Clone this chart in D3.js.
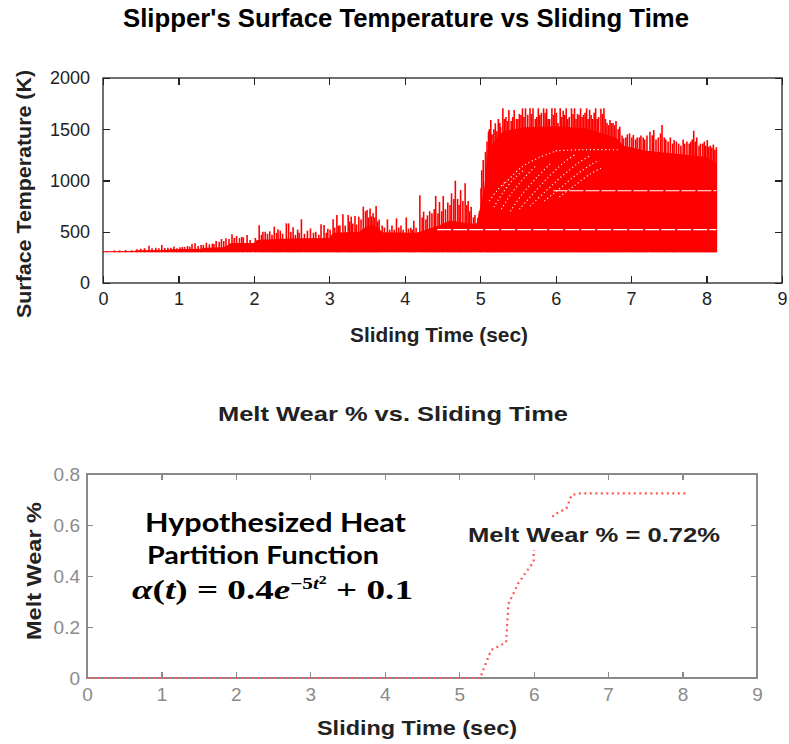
<!DOCTYPE html>
<html>
<head>
<meta charset="utf-8">
<script src="https://cdnjs.cloudflare.com/ajax/libs/d3/7.8.5/d3.min.js"></script>
<style>
  body { margin: 0; background: #fff; }
  svg { display: block; font-family: "Liberation Sans", Arial, sans-serif; }
  .tick line { shape-rendering: crispEdges; }
</style>
</head>
<body>
<svg id="chart" width="789" height="744"></svg>
<script>
// ---- top chart: surface temperature (K) ----
var xTicksTop = [0, 1, 2, 3, 4, 5, 6, 7, 8, 9];
var yTicksTop = [0, 500, 1000, 1500, 2000];
var baseTemp = 300;

// solid body of the trace (lower envelope between spikes)
var bodyTime = [0, 0.4, 0.45, 0.85, 0.9, 1.3, 1.35, 1.6, 1.7, 2.0, 2.04, 2.3, 2.6, 3.0, 3.05, 3.4, 3.45, 3.55, 3.65, 3.7, 4.15, 4.2, 4.45, 4.6, 4.85, 4.95, 5.05, 5.1, 5.3, 5.6, 6.0, 6.4, 6.8, 6.9, 7.2, 7.6, 8.0, 8.13];
var bodyTemp = [310, 312, 320, 322, 330, 335, 345, 350, 390, 390, 420, 430, 436, 440, 490, 500, 530, 570, 540, 495, 490, 500, 560, 610, 580, 580, 900, 1300, 1480, 1520, 1530, 1510, 1420, 1340, 1290, 1260, 1230, 1170];

// tall spike peaks
var spikeTime = [0.15, 0.3, 0.45, 0.55, 0.61, 0.7, 0.78, 0.86, 0.94, 1.05, 1.12, 1.18, 1.22, 1.3, 1.37, 1.45, 1.5, 1.57, 1.63, 1.71, 1.77, 1.81, 1.86, 1.91,
    2.07, 2.12, 2.15, 2.21, 2.27, 2.32, 2.35, 2.43, 2.46, 2.52, 2.58, 2.63, 2.71, 2.75, 2.82, 2.89, 2.93, 2.98,
    3.05, 3.10, 3.14, 3.18, 3.25, 3.29, 3.34, 3.39, 3.45, 3.48, 3.50, 3.54, 3.58, 3.62, 3.66, 3.77, 3.83, 3.89, 3.95,
    4.02, 4.08, 4.12, 4.20, 4.25, 4.30, 4.36, 4.41, 4.46, 4.51, 4.57, 4.62, 4.67, 4.70, 4.74, 4.80, 4.84, 4.88, 4.93, 4.97,
    5.01, 5.04, 5.07, 5.11, 5.14, 5.17, 5.20, 5.24, 5.27, 5.30, 5.34, 5.38, 5.41, 5.45, 5.48, 5.52, 5.56, 5.60, 5.63, 5.66, 5.70, 5.73, 5.77, 5.81, 5.84, 5.88, 5.92, 5.95, 5.99,
    6.03, 6.06, 6.10, 6.14, 6.18, 6.21, 6.25, 6.29, 6.33, 6.37, 6.41, 6.45, 6.49, 6.53, 6.57, 6.60, 6.64, 6.68, 6.72, 6.76, 6.80, 6.85, 6.90, 6.95,
    7.03, 7.08, 7.13, 7.18, 7.25, 7.30, 7.36, 7.41, 7.46, 7.52, 7.57, 7.63, 7.69, 7.74, 7.79, 7.83, 7.87, 7.92, 7.97,
    8.01, 8.05, 8.09, 8.13];
var spikeTemp = [318, 322, 330, 340, 364, 345, 371, 345, 355, 350, 360, 380, 387, 370, 393, 385, 409, 429, 436, 475, 459, 440, 445, 468,
    563, 500, 500, 504, 550, 524, 510, 582, 582, 543, 520, 621, 510, 532, 500, 572, 566, 530,
    621, 663, 560, 670, 663, 647, 653, 647, 745, 700, 712, 728, 680, 751, 620, 621, 560, 631, 560,
    640, 540, 608, 856, 696, 660, 680, 850, 790, 850, 786, 875, 998, 820, 907, 972, 800, 745, 663, 634,
    924, 1200, 1280, 1476, 1590, 1450, 1558, 1600, 1520, 1704, 1620, 1688, 1580, 1688, 1600, 1650, 1704, 1704, 1640, 1704, 1704, 1600, 1704, 1660, 1704, 1700, 1600, 1704, 1704,
    1560, 1704, 1680, 1704, 1620, 1704, 1704, 1650, 1704, 1640, 1704, 1690, 1600, 1704, 1620, 1700, 1704, 1560, 1590, 1560, 1580, 1525, 1412, 1450,
    1444, 1420, 1440, 1400, 1476, 1493, 1420, 1541, 1400, 1420, 1395, 1360, 1400, 1380, 1379, 1486, 1420, 1360, 1380,
    1395, 1340, 1350, 1324];

// smaller spikes packed between the tall ones
var minorTime = [0.05, 0.22, 0.38, 0.5, 0.65, 0.74, 0.82, 0.9, 0.98, 1.02, 1.08, 1.15, 1.26, 1.33, 1.41, 1.47, 1.54, 1.6, 1.67, 1.74, 1.84, 1.95,
    2.02, 2.1, 2.18, 2.24, 2.3, 2.38, 2.49, 2.55, 2.6, 2.67, 2.79, 2.86, 2.96, 3.01, 3.07, 3.12, 3.21, 3.27, 3.31, 3.36, 3.42, 3.52, 3.56, 3.6, 3.64,
    3.7, 3.73, 3.8, 3.86, 3.92, 3.98, 4.05, 4.1, 4.15, 4.23, 4.28, 4.33, 4.39, 4.44, 4.49, 4.54, 4.6, 4.65, 4.72, 4.77, 4.82, 4.86, 4.91, 4.99,
    5.02, 5.09, 5.12, 5.15, 5.18, 5.22, 5.26, 5.32, 5.36, 5.43, 5.5, 5.54, 5.58, 5.68, 5.75, 5.79, 5.86, 5.9, 5.97, 6.01, 6.08, 6.12, 6.16, 6.23,
    6.27, 6.31, 6.35, 6.39, 6.43, 6.47, 6.51, 6.55, 6.62, 6.66, 6.7, 6.74, 6.78, 6.83, 6.88, 6.93, 6.98, 7.01, 7.06, 7.11, 7.16, 7.21, 7.28,
    7.33, 7.39, 7.44, 7.49, 7.55, 7.6, 7.66, 7.71, 7.77, 7.81, 7.85, 7.9, 7.95, 7.99, 8.03, 8.07, 8.11];
var minorTemp = [312, 318, 320, 335, 340, 338, 342, 345, 340, 350, 352, 355, 362, 372, 378, 380, 400, 410, 430, 440, 450, 420,
    440, 470, 480, 470, 490, 480, 500, 470, 490, 480, 490, 470, 490, 520, 540, 560, 560, 600, 580, 570, 620, 640, 650, 640, 600,
    560, 540, 520, 520, 540, 520, 530, 520, 540, 640, 620, 700, 720, 680, 700, 720, 760, 820, 760, 800, 760, 700, 640, 700,
    1100, 1380, 1500, 1450, 1500, 1480, 1560, 1600, 1580, 1620, 1600, 1640, 1620, 1650, 1620, 1640, 1660, 1600, 1640, 1660, 1620, 1640, 1600, 1650,
    1600, 1640, 1620, 1660, 1600, 1640, 1660, 1600, 1650, 1600, 1540, 1560, 1540, 1500, 1440, 1420, 1460, 1420, 1400, 1420, 1420, 1440, 1440,
    1400, 1460, 1420, 1380, 1360, 1380, 1340, 1360, 1360, 1400, 1380, 1340, 1360, 1340, 1330, 1320, 1300];

// white banding seen inside the trace
var bandLow = [[4.43, 520], [8.13, 520]];
var bandHigh = [[5.97, 900], [8.13, 900]];
var moire = [
    [[5.12, 800], [5.22, 900], [5.35, 1000]],
    [[5.18, 740], [5.30, 880], [5.45, 1020], [5.58, 1100]],
    [[5.28, 720], [5.42, 880], [5.60, 1040], [5.75, 1150]],
    [[5.40, 700], [5.55, 860], [5.75, 1030], [5.95, 1180]],
    [[5.52, 720], [5.70, 870], [5.90, 1030], [6.10, 1170], [6.25, 1250]],
    [[5.66, 750], [5.86, 890], [6.08, 1040], [6.30, 1170], [6.45, 1240]],
    [[5.85, 800], [6.05, 920], [6.28, 1060], [6.48, 1160], [6.58, 1200]],
    [[6.05, 840], [6.25, 950], [6.45, 1060], [6.60, 1120]],
    [[5.30, 950], [5.55, 1130], [5.80, 1230], [6.02, 1290]],
    [[6.00, 1290], [6.35, 1300], [6.85, 1300]]
];

// ---- bottom chart: melt wear % ----
var xTicksBot = [0, 1, 2, 3, 4, 5, 6, 7, 8, 9];
var yTicksBot = [0, 0.2, 0.4, 0.6, 0.8];
var meltTime = [0, 5.28, 5.43, 5.5, 5.63, 5.66, 5.79, 5.91, 6.0, 6.0, 6.27, 6.44, 6.51, 6.62, 8.08];
var meltWear = [0, 0, 0.11, 0.12, 0.14, 0.29, 0.37, 0.42, 0.456, 0.50, 0.64, 0.665, 0.718, 0.724, 0.724];

var svg = d3.select("#chart");
var font = '"Liberation Sans", Arial, sans-serif';

// ---------- top chart ----------
var top1 = { left: 103, right: 782, top: 78, bottom: 283 };

var x1 = d3.scaleLinear().domain([0, 9]).range([top1.left, top1.right]);
var y1 = d3.scaleLinear().domain([0, 2000]).range([top1.bottom, top1.top]);

var g1 = svg.append("g");

var bodyData = bodyTime.map(function(t, i) { return { t: t, v: bodyTemp[i] }; });
var area = d3.area()
    .x(function(d) { return x1(d.t); })
    .y0(y1(baseTemp))
    .y1(function(d) { return y1(d.v); });

g1.append("path")
    .datum(bodyData)
    .attr("d", area)
    .attr("fill", "#ff0000");

function drawSpikes(cls, times, temps, w) {
    g1.selectAll("." + cls)
        .data(times.map(function(t, i) { return { t: t, v: temps[i] }; }))
        .enter()
        .append("line")
        .attr("class", cls)
        .attr("x1", function(d) { return x1(d.t); })
        .attr("x2", function(d) { return x1(d.t); })
        .attr("y1", y1(baseTemp))
        .attr("y2", function(d) { return y1(d.v); })
        .attr("stroke", "#ff0000")
        .attr("stroke-width", w);
}
drawSpikes("minor", minorTime, minorTemp, 1.6);
drawSpikes("spike", spikeTime, spikeTemp, 1.6);

var line1 = d3.line()
    .x(function(d) { return x1(d[0]); })
    .y(function(d) { return y1(d[1]); });

g1.selectAll(".band")
    .data([bandLow, bandHigh])
    .enter()
    .append("path")
    .attr("d", line1)
    .attr("fill", "none")
    .attr("stroke", "#fff")
    .attr("stroke-width", 1.2)
    .attr("stroke-dasharray", "14,2");

g1.selectAll(".moire")
    .data(moire)
    .enter()
    .append("path")
    .attr("d", line1.curve(d3.curveCatmullRom))
    .attr("fill", "none")
    .attr("stroke", "#fff")
    .attr("stroke-width", 1.1)
    .attr("stroke-dasharray", "1.2,2.6");

// frame + inward ticks on all four sides
g1.append("rect")
    .attr("x", top1.left).attr("y", top1.top)
    .attr("width", top1.right - top1.left).attr("height", top1.bottom - top1.top)
    .attr("fill", "none").attr("stroke", "#222").attr("stroke-width", 1.3);

function styleAxis(sel, color, size) {
    sel.select(".domain").remove();
    sel.selectAll(".tick line").attr("stroke", color).attr("stroke-width", 1.3);
    sel.selectAll(".tick text").attr("fill", color).style("font-family", font).style("font-size", size + "px");
}

g1.append("g").attr("transform", "translate(0," + top1.bottom + ")")
    .call(d3.axisBottom(x1).tickValues(xTicksTop).tickSize(-7).tickPadding(9).tickFormat(d3.format("d")))
    .call(styleAxis, "#222", 18);
g1.append("g").attr("transform", "translate(0," + top1.top + ")")
    .call(d3.axisTop(x1).tickValues(xTicksTop).tickSize(-7).tickFormat(""))
    .call(styleAxis, "#222", 18);
g1.append("g").attr("transform", "translate(" + top1.left + ",0)")
    .call(d3.axisLeft(y1).tickValues(yTicksTop).tickSize(-7).tickPadding(13).tickFormat(d3.format("d")))
    .call(styleAxis, "#222", 18);
g1.append("g").attr("transform", "translate(" + top1.right + ",0)")
    .call(d3.axisRight(y1).tickValues(yTicksTop).tickSize(-7).tickFormat(""))
    .call(styleAxis, "#222", 18);

svg.append("text")
    .attr("x", 123).attr("y", 27)
    .attr("textLength", 566).attr("lengthAdjust", "spacingAndGlyphs")
    .style("font-size", "25px").style("font-weight", "bold").attr("fill", "#000")
    .text("Slipper's Surface Temperature vs Sliding Time");

svg.append("text")
    .attr("x", 439).attr("y", 342).attr("text-anchor", "middle")
    .attr("textLength", 178).attr("lengthAdjust", "spacingAndGlyphs")
    .style("font-size", "21px").style("font-weight", "bold").attr("fill", "#222")
    .text("Sliding Time (sec)");

svg.append("text")
    .attr("transform", "translate(31,194) rotate(-90)")
    .attr("text-anchor", "middle")
    .attr("textLength", 248).attr("lengthAdjust", "spacingAndGlyphs")
    .style("font-size", "20px").style("font-weight", "bold").attr("fill", "#222")
    .text("Surface Temperature (K)");

// ---------- bottom chart ----------
var bot = { left: 87, right: 757, top: 474, bottom: 678 };

var x2 = d3.scaleLinear().domain([0, 9]).range([bot.left, bot.right]);
var y2 = d3.scaleLinear().domain([0, 0.8]).range([bot.bottom, bot.top]);

var g2 = svg.append("g");

g2.append("rect")
    .attr("x", bot.left).attr("y", bot.top)
    .attr("width", bot.right - bot.left).attr("height", bot.bottom - bot.top)
    .attr("fill", "none").attr("stroke", "#8a8a8a").attr("stroke-width", 2);

g2.append("g").attr("transform", "translate(0," + bot.bottom + ")")
    .call(d3.axisBottom(x2).tickValues(xTicksBot).tickSize(-6).tickPadding(10).tickFormat(d3.format("d")))
    .call(styleAxis, "#8a8a8a", 19);
g2.append("g").attr("transform", "translate(0," + bot.top + ")")
    .call(d3.axisTop(x2).tickValues(xTicksBot).tickSize(-6).tickFormat(""))
    .call(styleAxis, "#8a8a8a", 19);
g2.append("g").attr("transform", "translate(" + bot.left + ",0)")
    .call(d3.axisLeft(y2).tickValues(yTicksBot).tickSize(-6).tickPadding(7).tickFormat(function(d) { return String(d); }))
    .call(styleAxis, "#8a8a8a", 19);
g2.append("g").attr("transform", "translate(" + bot.right + ",0)")
    .call(d3.axisRight(y2).tickValues(yTicksBot).tickSize(-6).tickFormat(""))
    .call(styleAxis, "#8a8a8a", 19);

var meltLine = d3.line()
    .x(function(d) { return x2(d.t); })
    .y(function(d) { return y2(d.v); });

g2.append("path")
    .datum(meltTime.map(function(t, i) { return { t: t, v: meltWear[i] }; }))
    .attr("d", meltLine)
    .attr("fill", "none")
    .attr("stroke", "#ff5555")
    .attr("stroke-width", 2.2)
    .attr("stroke-dasharray", "2,3.5");

// label sits on a white box that hides part of the curve
g2.append("rect")
    .attr("x", 465).attr("y", 518).attr("width", 258).attr("height", 32)
    .attr("fill", "#fff");
g2.append("text")
    .attr("x", 468).attr("y", 542)
    .attr("textLength", 252).attr("lengthAdjust", "spacingAndGlyphs")
    .style("font-size", "21px").style("font-weight", "bold").attr("fill", "#222")
    .text("Melt Wear % = 0.72%");

g2.append("text")
    .attr("x", 145).attr("y", 532)
    .attr("textLength", 261).attr("lengthAdjust", "spacingAndGlyphs")
    .style("font-family", "Lato, 'Open Sans', sans-serif")
    .style("font-size", "26px").style("font-weight", "bold").attr("fill", "#000")
    .text("Hypothesized Heat");
g2.append("text")
    .attr("x", 147).attr("y", 564)
    .attr("textLength", 232).attr("lengthAdjust", "spacingAndGlyphs")
    .style("font-family", "Lato, 'Open Sans', sans-serif")
    .style("font-size", "25px").style("font-weight", "bold").attr("fill", "#000")
    .text("Partition Function");

var formula = g2.append("text")
    .attr("x", 132).attr("y", 599)
    .attr("textLength", 281).attr("lengthAdjust", "spacingAndGlyphs")
    .style("font-family", "'Liberation Serif', 'DejaVu Serif', serif")
    .style("font-size", "28px").style("font-weight", "bold").attr("fill", "#000");
formula.append("tspan").style("font-style", "italic").text("α");
formula.append("tspan").text("(");
formula.append("tspan").style("font-style", "italic").text("t");
formula.append("tspan").text(") = 0.4");
formula.append("tspan").style("font-style", "italic").text("e");
formula.append("tspan").attr("dy", -10).style("font-size", "16px").text("−5");
formula.append("tspan").style("font-size", "16px").style("font-style", "italic").text("t");
formula.append("tspan").attr("dy", -5).style("font-size", "12px").text("2");
formula.append("tspan").attr("dy", 15).text(" + 0.1");

svg.append("text")
    .attr("x", 393).attr("y", 421).attr("text-anchor", "middle")
    .attr("textLength", 350).attr("lengthAdjust", "spacingAndGlyphs")
    .style("font-size", "21px").style("font-weight", "bold").attr("fill", "#222")
    .text("Melt Wear % vs. Sliding Time");

svg.append("text")
    .attr("x", 417).attr("y", 735).attr("text-anchor", "middle")
    .attr("textLength", 200).attr("lengthAdjust", "spacingAndGlyphs")
    .style("font-size", "21px").style("font-weight", "bold").attr("fill", "#222")
    .text("Sliding Time (sec)");

svg.append("text")
    .attr("transform", "translate(41,571) rotate(-90)")
    .attr("text-anchor", "middle")
    .attr("textLength", 138).attr("lengthAdjust", "spacingAndGlyphs")
    .style("font-size", "21px").style("font-weight", "bold").attr("fill", "#222")
    .text("Melt Wear %");
</script>
</body>
</html>
